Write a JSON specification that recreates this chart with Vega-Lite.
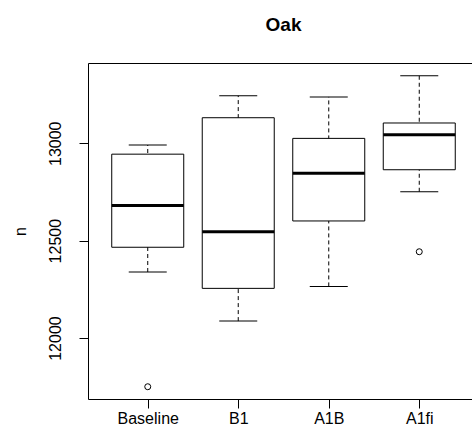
{
  "$schema": "https://vega.github.io/schema/vega-lite/v6.json",
  "width": 391,
  "height": 336,
  "autosize": "none",
  "padding": {"left": 88, "top": 63, "right": 0, "bottom": 44},
  "background": "white",
  "title": {"text": "Oak", "fontSize": 19, "fontWeight": "bold", "font": "Liberation Sans", "color": "black", "anchor": "middle", "baseline": "alphabetic", "offset": 13, "frame": "group"},
  "config": {
    "view": {"stroke": "black", "strokeWidth": 1},
    "axis": {"labelFont": "Liberation Sans", "titleFont": "Liberation Sans", "labelColor": "black", "titleColor": "black", "tickColor": "black", "grid": false, "domain": false}
  },
  "datasets": {
    "boxes": [
      {"group": "Baseline", "lower": 12339, "q1": 12466, "median": 12680, "q3": 12944, "upper": 12991},
      {"group": "B1", "lower": 12087, "q1": 12255, "median": 12546, "q3": 13131, "upper": 13244},
      {"group": "A1B", "lower": 12265, "q1": 12601, "median": 12846, "q3": 13025, "upper": 13238},
      {"group": "A1fi", "lower": 12751, "q1": 12864, "median": 13043, "q3": 13104, "upper": 13346}
    ],
    "outliers": [
      {"group": "Baseline", "value": 11750},
      {"group": "A1fi", "value": 12443}
    ]
  },
  "encoding": {
    "x": {"field": "group", "type": "nominal", "sort": ["Baseline", "B1", "A1B", "A1fi"],
      "scale": {"type": "point", "padding": 0.66, "domain": ["Baseline", "B1", "A1B", "A1fi"]},
      "axis": {"title": null, "labelAngle": 0, "labelFontSize": 16, "tickSize": 9, "labelPadding": 2}}
  },
  "layer": [
    {
      "data": {"name": "boxes"},
      "mark": {"type": "rule", "color": "black", "strokeWidth": 1, "strokeDash": [4, 3], "opacity": 1},
      "encoding": {
        "y": {"field": "lower", "type": "quantitative",
          "scale": {"domain": [11687, 13412], "nice": false, "zero": false},
          "axis": {"title": "n", "values": [12000, 12500, 13000], "format": "d", "labelFontSize": 16, "tickSize": 9, "labelAngle": -90, "labelAlign": "center", "labelBaseline": "alphabetic", "labelPadding": 19, "titleFontSize": 16, "titleFontWeight": "normal", "titleAngle": -90, "titleBaseline": "alphabetic", "titleX": -63, "titleY": 168, "titleAlign": "center"}},
        "y2": {"field": "upper"}
      }
    },
    {
      "data": {"name": "boxes"},
      "mark": {"type": "bar", "fill": "white", "stroke": "black", "strokeWidth": 1, "size": 72, "opacity": 1},
      "encoding": {
        "y": {"field": "q1", "type": "quantitative"},
        "y2": {"field": "q3"}
      }
    },
    {
      "data": {"name": "boxes"},
      "mark": {"type": "tick", "color": "black", "thickness": 3, "size": 72, "opacity": 1},
      "encoding": {"y": {"field": "median", "type": "quantitative"}}
    },
    {
      "data": {"name": "boxes"},
      "mark": {"type": "tick", "color": "black", "thickness": 1, "size": 38, "opacity": 1},
      "encoding": {"y": {"field": "lower", "type": "quantitative"}}
    },
    {
      "data": {"name": "boxes"},
      "mark": {"type": "tick", "color": "black", "thickness": 1, "size": 38, "opacity": 1},
      "encoding": {"y": {"field": "upper", "type": "quantitative"}}
    },
    {
      "data": {"name": "outliers"},
      "mark": {"type": "point", "shape": "circle", "filled": false, "stroke": "black", "strokeWidth": 1, "size": 36, "opacity": 1},
      "encoding": {"y": {"field": "value", "type": "quantitative"}}
    }
  ]
}
